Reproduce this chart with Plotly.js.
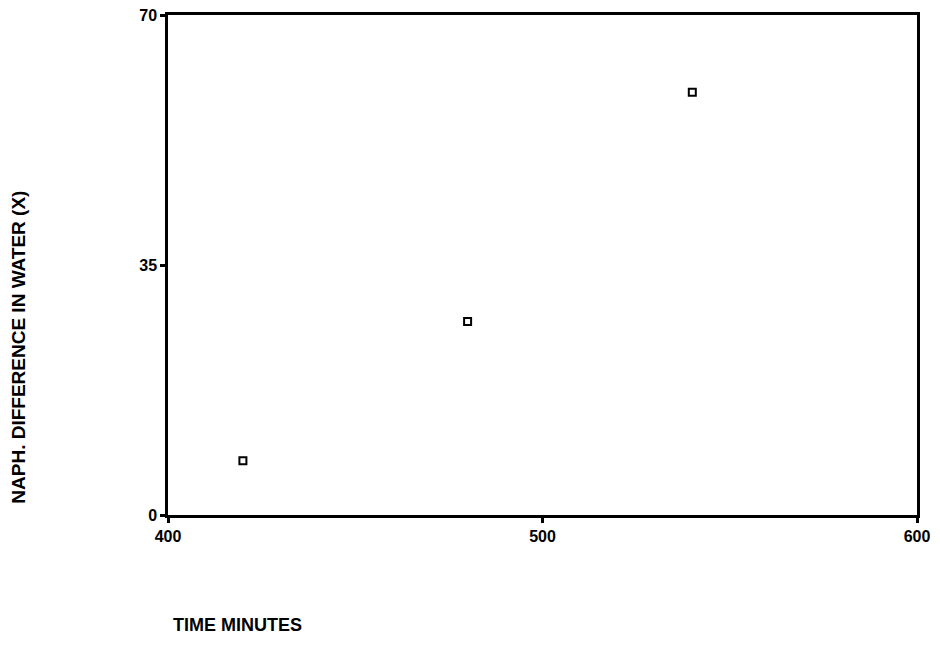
<!DOCTYPE html>
<html>
<head>
<meta charset="utf-8">
<script src="https://cdn.plot.ly/plotly-3.0.1.min.js"></script>
<style>html,body{margin:0;padding:0;background:#fff;}#chart{width:940px;height:646px;}</style>
</head>
<body>
<div id="chart"></div>
<script>
const timeMinutes = [420, 480, 540];
const naphDiff = [7.6, 27.1, 59.2];
const xTicks = [400, 500, 600];
const yTicks = [0, 35, 70];

const data = [{
  x: timeMinutes,
  y: naphDiff,
  type: 'scatter',
  mode: 'markers',
  marker: {symbol: 'square-open', size: 7, color: '#000', line: {width: 2, color: '#000'}},
  showlegend: false
}];

const fam = 'Liberation Sans, Arial, sans-serif';
const layout = {
  width: 940, height: 646,
  margin: {l: 168, r: 23, t: 15, b: 131},
  paper_bgcolor: '#fff', plot_bgcolor: '#fff',
  font: {family: fam, color: '#000', size: 14},
  xaxis: {
    range: [400, 600], tickvals: xTicks, ticktext: xTicks.map(String),
    showgrid: false, zeroline: false, showline: true, linecolor: '#000', linewidth: 2.5,
    mirror: true, ticks: 'outside', ticklen: 5, tickwidth: 3, tickcolor: '#000',
    tickfont: {size: 16, family: fam, weight: 'bold'}
  },
  yaxis: {
    range: [0, 70], tickvals: yTicks, ticktext: yTicks.map(String),
    showgrid: false, zeroline: false, showline: true, linecolor: '#000', linewidth: 2.5,
    mirror: true, ticks: 'outside', ticklen: 5, tickwidth: 3, tickcolor: '#000',
    tickfont: {size: 16, family: fam, weight: 'bold'}
  },
  annotations: [
    {text: 'NAPH. DIFFERENCE IN WATER (X)', xref: 'paper', yref: 'paper',
     x: -0.2, xanchor: 'center', y: 0.335, yanchor: 'middle', textangle: -90,
     showarrow: false, font: {size: 19, family: fam, weight: 'bold'}},
    {text: 'TIME MINUTES', xref: 'paper', yref: 'paper',
     x: 0.004, xanchor: 'left', y: -0.22, yanchor: 'middle',
     showarrow: false, font: {size: 18, family: fam, weight: 'bold'}}
  ]
};

Plotly.newPlot('chart', data, layout, {displayModeBar: false});
</script>
</body>
</html>
